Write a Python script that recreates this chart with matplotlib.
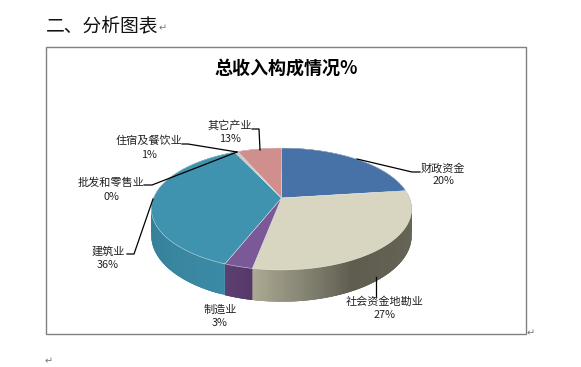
import numpy as np
from matplotlib import pyplot as plt
from matplotlib.colors import to_rgb
from matplotlib.patches import Rectangle

plt.rcParams['font.family'] = ['Noto Sans CJK SC', 'DejaVu Sans']

names = ["财政资金", "社会资金地勘业", "制造业", "建筑业", "批发和零售业", "住宿及餐饮业", "其它产业"]
percent_labels = ["20%", "27%", "3%", "36%", "0%", "1%", "13%"]
# доли секторов как они нарисованы на картинке (подписи с ними не совпадают)
drawn_shares = [23, 30, 3, 37, 0, 0.5, 6.5]

top_colors = ["#4672A8", "#D8D6C0", "#7B5898", "#3F93AE", "#B8B8C8", "#CDC8C4", "#D08F8D"]
wall_colors = [
    ["#3A5F8C", "#3A5F8C"],
    ["#ABA993", "#5F5D50", "#6B6959"],
    ["#5E3F72", "#55386A"],
    ["#2C7088", "#3B8AA5"],
    ["#B8B8C8", "#B8B8C8"],
    ["#CDC8C4", "#CDC8C4"],
    ["#A87270", "#A87270"],
]

title = "总收入构成情况%"
heading = "二、分析图表"

CX, CY = 281.5, 198
A, B, K = 128, 59, 0.18
DEPTH = 26


def project(theta):
    x, y = np.sin(theta), np.cos(theta)
    w = 1 + K * y
    return CX + A * x / w, CY - B * y / w, DEPTH / w


fig = plt.figure(figsize=(5.81, 3.67), dpi=100)
ax = fig.add_axes([0, 0, 1, 1])
ax.set_xlim(0, 581)
ax.set_ylim(367, 0)
ax.axis("off")

ax.add_patch(Rectangle((45.5, 46.5), 480, 287.5, fill=False, ec="#808080", lw=1.0))

edges = np.radians(np.cumsum([0] + drawn_shares) * 3.6)

# боковая стенка: полоски с перекрытием, иначе видны швы
for i in range(len(drawn_shares)):
    if drawn_shares[i] == 0:
        continue
    t = np.linspace(edges[i], edges[i + 1], 80)
    px, py, d = project(t)
    stops = [to_rgb(c) for c in wall_colors[i]]
    pos = np.linspace(0, 1, len(stops))
    if i == 1:
        pos = [0, 0.35, 1]
    for j in range(len(t) - 1):
        f = 1 - j / (len(t) - 2)
        color = [np.interp(f, pos, [s[c] for s in stops]) for c in range(3)]
        k = min(j + 3, len(t) - 1)
        ax.fill(np.r_[px[j:k + 1], px[j:k + 1][::-1]],
                np.r_[py[j:k + 1], (py + d)[j:k + 1][::-1]],
                color=color, lw=0, zorder=2)

# верхняя поверхность
for i in range(len(drawn_shares)):
    if drawn_shares[i] == 0:
        continue
    t = np.linspace(edges[i], edges[i + 1], 80)
    px, py, d = project(t)
    ax.fill(np.r_[CX, px], np.r_[CY, py], color=top_colors[i], ec="#E8E8E8", lw=0.3, zorder=3)

# подписи
label_pos = [(443, 168), (385, 302), (220, 310), (108, 251), (111, 183), (149, 141), (229.5, 126)]
for name, pct, (lx, ly) in zip(names, percent_labels, label_pos):
    ax.text(lx, ly, name, ha="center", va="center", fontsize=8, color="#222222", zorder=5)
    ax.text(lx, ly + 13.5, pct, ha="center", va="center", fontsize=7.8, color="#222222", zorder=5)

leaders = [
    ([357, 412, 420], [159, 172, 172]),
    ([376, 376], [277, 296]),
    ([153, 134, 127], [199, 254, 254]),
    ([144, 152, 237], [185, 185, 152]),
    ([182, 188, 237], [144, 144, 152]),
    ([252, 259, 260], [129, 129, 150]),
]
for lx, ly in leaders:
    ax.plot(lx, ly, color="black", lw=0.9, zorder=4)

ax.text(286, 68, title, ha="center", va="center", fontsize=13, fontweight="bold", color="black")
ax.text(46, 26, heading, ha="left", va="center", fontsize=13.5, color="#111111")
for x, y in [(163, 28), (531, 333), (49, 361)]:
    ax.text(x, y, "↵", ha="center", va="center", fontsize=7, color="#777777")

fig.savefig("out.png", dpi=100)
